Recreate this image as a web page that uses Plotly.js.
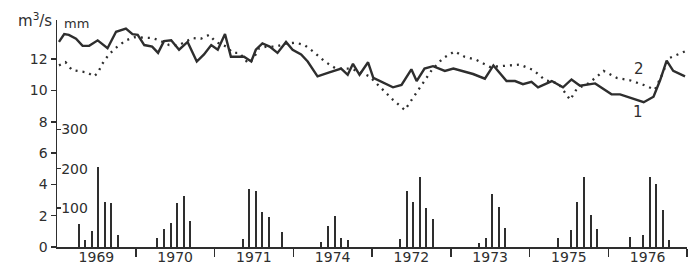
<!DOCTYPE html>
<html>
<head>
<meta charset="utf-8">
<script src="https://cdn.plot.ly/plotly-3.0.1.min.js"></script>
<style>html,body{margin:0;padding:0;background:#fff;}#chart{width:699px;height:272px;}</style>
</head>
<body>
<div id="chart"></div>
<script>
// Year panels (12 months each), in the order printed on the axis
const yearLabels = ['1969', '1970', '1971', '1974', '1972', '1973', '1975', '1976'];

// Curve 1 (solid): discharge, m3/s — month position along the axis, value
const flowMonth = [0.3, 1.1, 1.8, 2.9, 3.9, 4.9, 6.2, 7.7, 9.0, 10.5, 11.5, 12.3, 13.3, 14.5, 15.4, 16.3, 17.4, 18.6, 19.9, 21.3, 22.4, 23.5, 24.5, 25.6, 26.5, 28.5, 29.6, 30.3, 31.3, 32.4, 33.6, 34.9, 35.9, 37.2, 38.2, 39.7, 41.5, 43.3, 44.3, 45.1, 46.1, 47.4, 48.2, 51.2, 52.5, 54.0, 54.8, 56.0, 57.3, 59.1, 60.4, 61.9, 63.4, 65.2, 66.5, 68.5, 69.8, 71.0, 72.3, 73.3, 75.4, 77.1, 78.4, 79.7, 82.0, 84.5, 85.8, 89.4, 90.9, 91.9, 92.9, 93.9, 95.7];
const flowValue = [13.1, 13.6, 13.55, 13.3, 12.85, 12.85, 13.2, 12.7, 13.75, 13.95, 13.6, 13.55, 12.9, 12.8, 12.4, 13.15, 13.2, 12.6, 13.1, 11.85, 12.3, 12.9, 12.6, 13.6, 12.15, 12.15, 11.85, 12.6, 13.0, 12.8, 12.4, 13.1, 12.6, 12.3, 11.85, 10.9, 11.15, 11.4, 11.0, 11.7, 11.0, 11.8, 10.8, 10.2, 10.35, 11.35, 10.6, 11.4, 11.55, 11.25, 11.4, 11.2, 11.05, 10.75, 11.6, 10.6, 10.6, 10.4, 10.55, 10.2, 10.6, 10.2, 10.7, 10.3, 10.45, 9.75, 9.75, 9.25, 9.6, 10.65, 11.9, 11.25, 10.9];

// Curve 2 (dotted)
const curve2Month = [0.3, 1.3, 2.3, 3.6, 4.6, 5.6, 6.2, 6.9, 7.9, 9.2, 10.5, 11.8, 13.3, 14.5, 15.6, 17.1, 18.6, 20.7, 21.9, 23.2, 24.2, 25.8, 26.8, 27.8, 29.1, 29.8, 30.8, 31.9, 33.4, 34.9, 36.4, 37.7, 39.0, 40.8, 42.5, 44.6, 46.1, 47.6, 49.4, 51.2, 53.0, 54.2, 55.8, 57.1, 58.8, 60.6, 62.1, 63.9, 66.0, 68.5, 70.5, 72.6, 74.4, 76.4, 78.2, 79.2, 81.0, 83.3, 85.3, 87.3, 89.4, 91.1, 92.2, 93.2, 94.5, 95.7];
const curve2Value = [11.6, 11.8, 11.3, 11.2, 11.15, 10.9, 11.1, 11.7, 12.3, 12.8, 13.2, 13.4, 13.35, 13.35, 13.2, 12.9, 12.9, 13.35, 13.3, 13.55, 13.1, 12.8, 12.4, 12.4, 11.75, 11.95, 12.7, 12.8, 12.8, 13.0, 13.05, 12.9, 12.5, 11.85, 11.4, 11.4, 11.2, 10.9, 10.15, 9.4, 8.75, 9.5, 10.45, 11.3, 12.05, 12.5, 12.15, 11.95, 11.5, 11.6, 11.65, 11.3, 10.65, 10.45, 9.4, 10.1, 10.45, 11.25, 10.8, 10.65, 10.35, 10.05, 11.0, 12.05, 12.3, 12.5];

// Monthly precipitation bars, mm: panel index, month within panel, value
const rainPanel = [0,0,0,0,0,0,0, 1,1,1,1,1,1, 2,2,2,2,2,2, 3,3,3,3,3, 4,4,4,4,4,4, 5,5,5,5,5, 6,6,6,6,6,6, 7,7,7,7,7,7];
const rainMonth = [3,4,5,6,7,8,9, 3,4,5,6,7,8, 4,5,6,7,8,10, 4,5,6,7,8, 4,5,6,7,8,9, 4,5,6,7,8, 4,6,7,8,9,10, 3,5,6,7,8,9];
const rainMm    = [59,18,42,205,115,112,31, 22,46,61,113,131,66, 20,147,143,90,76,39, 12,54,78,24,18, 20,144,114,178,99,71, 9,22,135,103,49, 22,43,116,180,82,45, 26,31,180,160,95,18];

// Left-axis ticks (m3/s) and precipitation ticks (mm)
const flowTicks = [0, 2, 4, 6, 8, 10, 12];
const mmTicks = [100, 200, 300];

const ink = '#2e2e2e';
const font = 'DejaVu Sans, sans-serif';
const monthsPerPanel = 12;
const nPanels = yearLabels.length;
const flowTop = 14.5;
const mmPerUnit = 40;

const barX = rainPanel.map((p, i) => p * monthsPerPanel + rainMonth[i] + 0.3);
const boundaries = [];
for (let i = 0; i <= nPanels; i++) boundaries.push(i * monthsPerPanel);
const centers = yearLabels.map((_, i) => i * monthsPerPanel + monthsPerPanel / 2);

const traces = [
  {
    type: 'bar', x: barX, y: rainMm, yaxis: 'y2', width: 0.3,
    marker: {color: ink, line: {width: 0}}, hoverinfo: 'skip', showlegend: false
  },
  {
    type: 'scatter', mode: 'lines', x: flowMonth, y: flowValue,
    line: {color: ink, width: 2.4}, showlegend: false
  },
  {
    type: 'scatter', mode: 'lines', x: curve2Month, y: curve2Value,
    line: {color: ink, width: 2.3, dash: '2px,5px'}, showlegend: false
  }
];

const layout = {
  width: 699, height: 272,
  margin: {l: 57, r: 12, t: 20, b: 25},
  paper_bgcolor: '#fff', plot_bgcolor: '#fff',
  showlegend: false,
  bargap: 0,
  xaxis: {
    range: [0, nPanels * monthsPerPanel],
    showline: true, linecolor: ink, linewidth: 1.5,
    showgrid: false, zeroline: false,
    tickmode: 'array', tickvals: centers, ticktext: yearLabels,
    ticks: '', ticklabelstandoff: -3,
    tickfont: {family: font, size: 14, color: ink},
    minor: {tickmode: 'array', tickvals: boundaries, ticks: 'outside', ticklen: 8, tickwidth: 1.5, tickcolor: ink, showgrid: false},
    fixedrange: true
  },
  yaxis: {
    range: [0, flowTop],
    showline: true, linecolor: ink, linewidth: 1.5,
    showgrid: false, zeroline: false,
    tickmode: 'array', tickvals: flowTicks,
    ticks: 'outside', ticklen: 5, tickwidth: 1.5, tickcolor: ink,
    tickfont: {family: font, size: 14, color: ink},
    fixedrange: true
  },
  yaxis2: {
    overlaying: 'y', side: 'left', anchor: 'x',
    range: [0, flowTop * mmPerUnit],
    showline: false, showgrid: false, zeroline: false,
    tickmode: 'array', tickvals: mmTicks,
    ticks: 'inside', ticklen: 4, tickwidth: 1.5, tickcolor: ink,
    ticklabelposition: 'inside',
    tickfont: {family: font, size: 14, color: ink},
    fixedrange: true
  },
  annotations: [
    {xref: 'paper', yref: 'paper', x: -0.005, y: 1.0, xanchor: 'right', yanchor: 'middle',
     text: 'm<sup>3</sup>/s', showarrow: false, font: {family: font, size: 15, color: ink}},
    {xref: 'paper', yref: 'paper', x: 0.008, y: 0.985, xanchor: 'left', yanchor: 'middle',
     text: 'mm', showarrow: false, font: {family: font, size: 13, color: ink}},
    {x: 88.7, y: 11.4, text: '2', showarrow: false, font: {family: font, size: 15, color: ink}},
    {x: 88.5, y: 8.6, text: '1', showarrow: false, font: {family: font, size: 15, color: ink}}
  ]
};

Plotly.newPlot('chart', traces, layout, {staticPlot: true, displayModeBar: false});
</script>
</body>
</html>
